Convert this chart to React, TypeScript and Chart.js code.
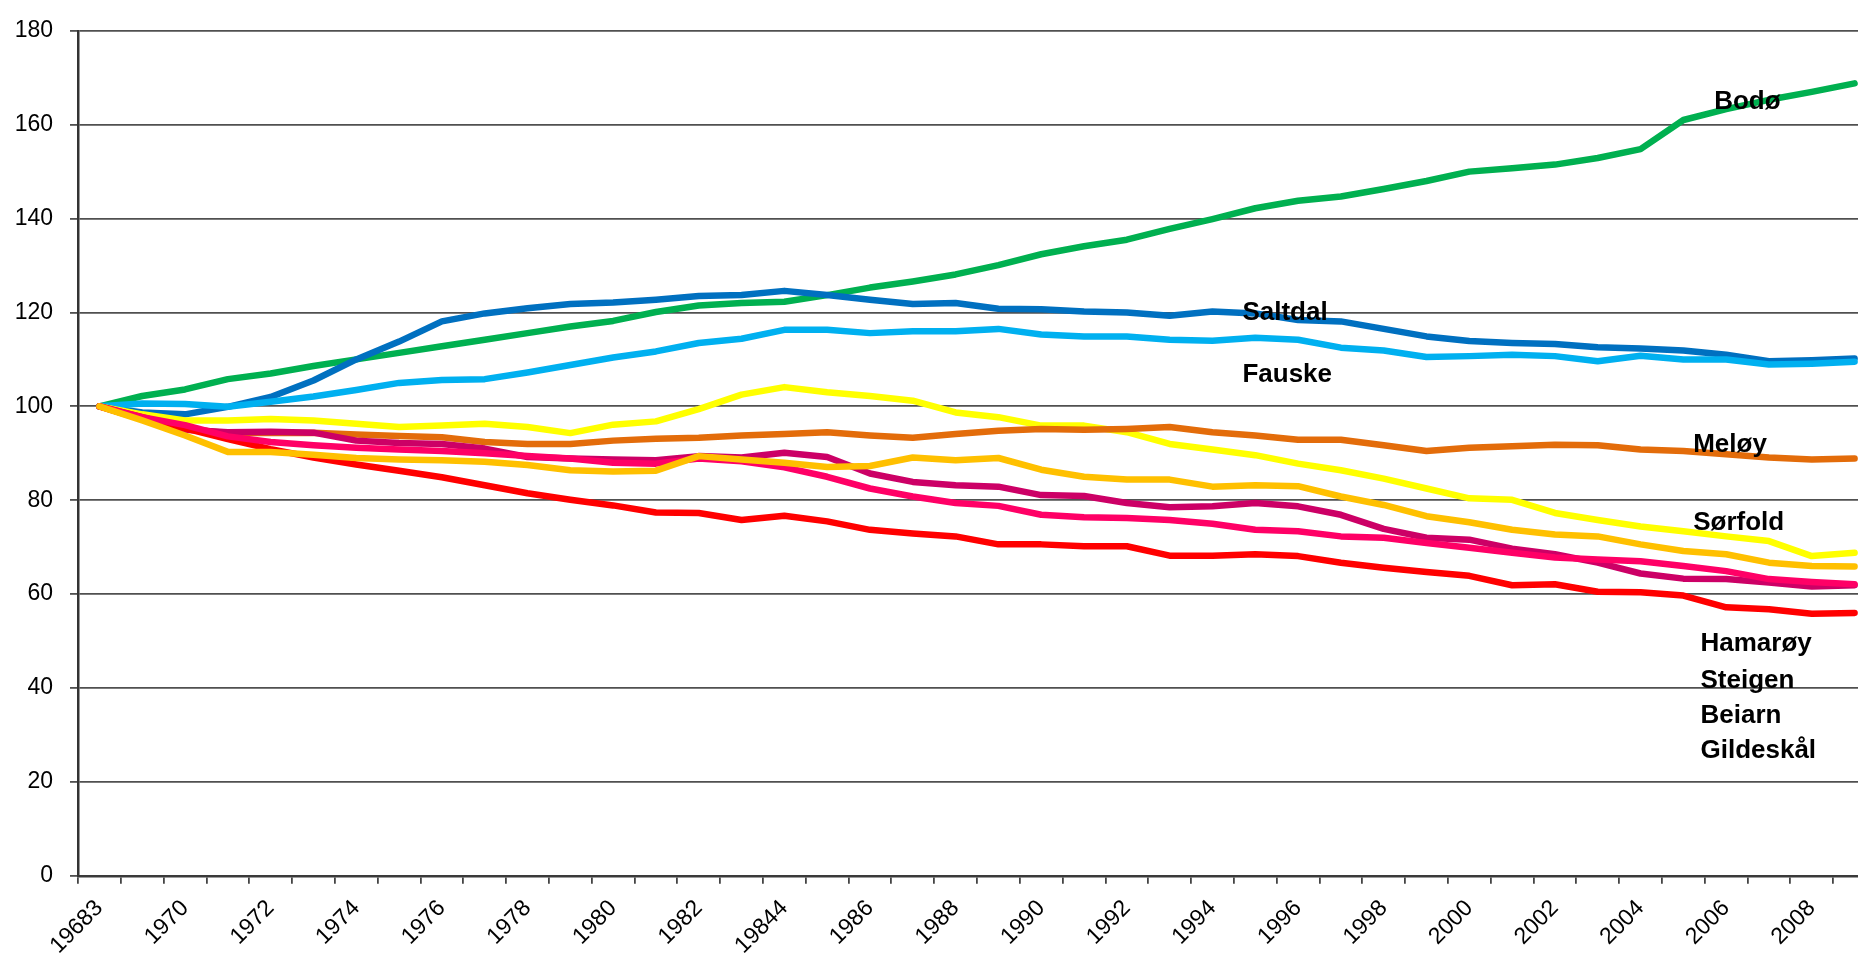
import { useEffect, useRef } from 'react';
import { Chart, registerables } from 'chart.js';

Chart.register(...registerables);

const FONT = '"Liberation Sans", Arial, sans-serif';

const years = [
  '1968', '1969', '1970', '1971', '1972', '1973', '1974', '1975', '1976', '1977',
  '1978', '1979', '1980', '1981', '1982', '1983', '1984', '1985', '1986', '1987',
  '1988', '1989', '1990', '1991', '1992', '1993', '1994', '1995', '1996', '1997',
  '1998', '1999', '2000', '2001', '2002', '2003', '2004', '2005', '2006', '2007',
  '2008', '2009',
];

const xTickLabels = [
  '19683', '', '1970', '', '1972', '', '1974', '', '1976', '',
  '1978', '', '1980', '', '1982', '', '19844', '', '1986', '',
  '1988', '', '1990', '', '1992', '', '1994', '', '1996', '',
  '1998', '', '2000', '', '2002', '', '2004', '', '2006', '',
  '2008', '',
];

const bodo = [
  100, 102.2, 103.6, 105.8, 107.0, 108.6, 110.0, 111.4, 112.8, 114.2,
  115.6, 117.0, 118.2, 120.1, 121.5, 122.0, 122.3, 123.7, 125.3, 126.6,
  128.1, 130.1, 132.4, 134.1, 135.5, 137.8, 139.9, 142.2, 143.8, 144.7,
  146.3, 148.0, 150.0, 150.7, 151.5, 152.9, 154.8, 161.0, 163.3, 165.3,
  167.0, 168.8,
];
const saltdal = [
  100, 98.7, 98.3, 99.9, 102.0, 105.5, 110.0, 113.8, 118.1, 119.8,
  120.9, 121.8, 122.1, 122.7, 123.5, 123.7, 124.6, 123.7, 122.7, 121.8,
  122.0, 120.8, 120.7, 120.2, 120.0, 119.3, 120.2, 119.8, 118.4, 118.1,
  116.5, 114.9, 113.9, 113.5, 113.3, 112.6, 112.3, 111.9, 111.0, 109.6,
  109.8, 110.2,
];
const fauske = [
  100, 100.6, 100.5, 99.9, 101.0, 102.1, 103.5, 105.0, 105.6, 105.8,
  107.2, 108.8, 110.4, 111.7, 113.5, 114.4, 116.3, 116.3, 115.6, 116.0,
  116.0, 116.5, 115.3, 114.9, 114.9, 114.2, 114.0, 114.6, 114.2, 112.5,
  111.9, 110.5, 110.7, 111.0, 110.7, 109.6, 110.8, 110.0, 110.0, 108.9,
  109.1, 109.5,
];
const meloy = [
  100, 97.2, 95.3, 94.3, 94.3, 94.4, 94.0, 93.7, 93.4, 92.4,
  92.0, 92.0, 92.7, 93.1, 93.3, 93.8, 94.1, 94.5, 93.8, 93.3,
  94.1, 94.8, 95.2, 95.0, 95.2, 95.6, 94.5, 93.8, 92.9, 92.9,
  91.7, 90.5, 91.2, 91.5, 91.8, 91.7, 90.8, 90.5, 89.8, 89.1,
  88.7, 88.9,
];
const sorfold = [
  100, 98.3, 97.0, 97.0, 97.3, 97.0, 96.3, 95.6, 95.9, 96.3,
  95.6, 94.3, 96.1, 96.8, 99.4, 102.5, 104.1, 103.0, 102.2, 101.2,
  98.7, 97.7, 95.9, 95.9, 94.5, 92.0, 90.8, 89.6, 87.8, 86.4,
  84.6, 82.5, 80.4, 80.1, 77.3, 75.8, 74.4, 73.4, 72.3, 71.3,
  68.1, 68.8,
];
const hamaroy = [
  100, 97.0, 93.8, 90.3, 90.3, 89.7, 89.0, 88.7, 88.5, 88.2,
  87.5, 86.4, 86.1, 86.3, 89.4, 88.7, 88.0, 87.1, 87.3, 89.1,
  88.5, 89.0, 86.5, 85.0, 84.4, 84.4, 82.9, 83.2, 83.0, 80.8,
  79.0, 76.6, 75.3, 73.7, 72.7, 72.3, 70.6, 69.2, 68.5, 66.7,
  66.0, 65.9,
];
const steigen = [
  100, 97.7, 96.0, 93.6, 92.4, 91.7, 91.2, 90.8, 90.5, 90.0,
  89.4, 88.9, 88.0, 87.8, 88.9, 88.3, 87.0, 85.0, 82.5, 80.8,
  79.4, 78.8, 76.9, 76.4, 76.2, 75.8, 75.0, 73.7, 73.4, 72.3,
  72.0, 70.9, 69.9, 68.8, 67.8, 67.4, 67.0, 66.0, 64.9, 63.2,
  62.6, 62.1,
];
const beiarn = [
  100, 97.3, 95.0, 94.5, 94.6, 94.4, 92.7, 92.2, 92.0, 91.0,
  89.2, 88.9, 88.7, 88.5, 89.4, 89.1, 90.1, 89.2, 85.7, 83.9,
  83.2, 82.9, 81.1, 80.9, 79.4, 78.5, 78.7, 79.4, 78.7, 76.9,
  73.9, 72.0, 71.6, 69.7, 68.5, 66.7, 64.4, 63.3, 63.2, 62.5,
  61.6, 61.9,
];
const gildeskal = [
  100, 97.7, 95.3, 93.0, 90.9, 89.1, 87.6, 86.3, 84.9, 83.2,
  81.5, 80.1, 78.9, 77.4, 77.3, 75.8, 76.7, 75.5, 73.7, 72.9,
  72.3, 70.6, 70.6, 70.2, 70.2, 68.2, 68.2, 68.5, 68.1, 66.7,
  65.6, 64.7, 63.9, 61.9, 62.1, 60.5, 60.4, 59.7, 57.2, 56.8,
  55.8, 56.0,
];

// Series names, colours (listed top-most first in drawing order)
const seriesNames = ['Hamarøy', 'Steigen', 'Gildeskål', 'Beiarn', 'Meløy', 'Sørfold', 'Fauske', 'Saltdal', 'Bodø'];
const seriesData = [hamaroy, steigen, gildeskal, beiarn, meloy, sorfold, fauske, saltdal, bodo];
const seriesColors = ['#FFC000', '#FF0066', '#FF0000', '#CC0066', '#E36C0A', '#FFFF00', '#00B0F0', '#0070C0', '#00B050'];

// In-chart text labels: category position (index units) and baseline value
const labelTexts = ['Bodø', 'Saltdal', 'Fauske', 'Meløy', 'Sørfold', 'Hamarøy', 'Steigen', 'Beiarn', 'Gildeskål'];
const labelCategoryPos = [37.72, 26.7, 26.7, 37.23, 37.23, 37.4, 37.4, 37.4, 37.4];
const labelBaselineValue = [163.4, 118.4, 105.1, 90.3, 73.7, 47.8, 40.1, 32.5, 25.1];

const textLabelPlugin = {
  id: 'textLabels',
  afterDatasetsDraw(chart: any) {
    const { ctx, scales } = chart;
    const x = scales.x;
    const y = scales.y;
    const x0 = x.getPixelForValue(0);
    const step = x.getPixelForValue(1) - x0;
    ctx.save();
    ctx.font = `bold 26px ${FONT}`;
    ctx.fillStyle = '#000000';
    ctx.textAlign = 'left';
    ctx.textBaseline = 'alphabetic';
    labelTexts.forEach((t, i) => {
      ctx.fillText(t, x0 + labelCategoryPos[i] * step, y.getPixelForValue(labelBaselineValue[i]));
    });
    ctx.restore();
  },
};

export default function App() {
  const canvasRef = useRef<HTMLCanvasElement | null>(null);

  useEffect(() => {
    if (!canvasRef.current) return;
    const chart = new Chart(canvasRef.current, {
      type: 'line',
      data: {
        labels: years,
        datasets: seriesNames.map((name, i) => ({
          label: name,
          data: seriesData[i],
          borderColor: seriesColors[i],
          backgroundColor: seriesColors[i],
          borderWidth: 6.5,
          pointRadius: 0,
          tension: 0,
          fill: false,
          borderJoinStyle: 'round' as const,
          borderCapStyle: 'round' as const,
        })),
      },
      options: {
        responsive: false,
        animation: false,
        layout: { padding: { top: 23.5, right: 0, bottom: 0, left: 0 } },
        plugins: {
          legend: { display: false },
          tooltip: { enabled: false },
        },
        scales: {
          x: {
            type: 'category',
            offset: true,
            grid: {
              display: true,
              offset: true,
              drawOnChartArea: false,
              drawTicks: true,
              tickLength: 8,
              color: '#444444',
              lineWidth: 1.8,
            },
            border: { display: true, color: '#3a3a3a', width: 2.5 },
            ticks: {
              autoSkip: false,
              maxRotation: 45,
              minRotation: 45,
              padding: 11,
              labelOffset: 0,
              color: '#000000',
              font: { size: 23, family: FONT },
              callback: (_v: any, i: number) => xTickLabels[i],
            },
            afterFit: (s: any) => {
              s.height = 80.2;
              s.paddingLeft = 0;
              s.paddingRight = 0;
            },
          },
          y: {
            min: 0,
            max: 180,
            ticks: {
              stepSize: 20,
              padding: 17,
              color: '#000000',
              font: { size: 23, family: FONT },
            },
            grid: {
              color: '#505050',
              lineWidth: 1.8,
              drawTicks: true,
              tickLength: 8,
            },
            border: { display: true, color: '#333333', width: 2.5 },
            afterFit: (s: any) => {
              s.width = 78;
            },
          },
        },
      },
      plugins: [textLabelPlugin],
    } as any);
    return () => chart.destroy();
  }, []);

  return (
    <div
      style={{
        position: 'fixed',
        left: 0,
        top: 0,
        width: '100vw',
        height: '100vh',
        overflow: 'hidden',
        background: '#ffffff',
      }}
    >
      <canvas
        ref={canvasRef}
        width={1876}
        height={956}
        style={{ display: 'block', width: '1876px', height: '956px' }}
      />
    </div>
  );
}
